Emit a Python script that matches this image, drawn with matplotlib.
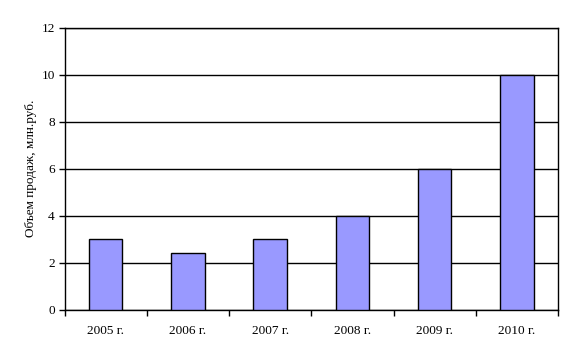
import matplotlib
matplotlib.use("Agg")
import matplotlib.pyplot as plt
import numpy as np

categories = ["2005 г.", "2006 г.", "2007 г.", "2008 г.", "2009 г.", "2010 г."]
values = [3, 2.4, 3, 4, 6, 10]
y_ticks = [0, 2, 4, 6, 8, 10, 12]
y_label = "Объем продаж, млн.руб."

plt.rcParams['font.family'] = ['Liberation Serif', 'DejaVu Serif']

fig = plt.figure(figsize=(5.75, 3.57), dpi=100)
W, H = 575, 357
ax = fig.add_axes([64.5 / W, 1 - 309.5 / H, (558 - 64.5) / W, (309.5 - 27.5) / H])

x = np.arange(len(categories))
ax.bar(x, values, width=0.41, color="#9999FF", edgecolor="black", linewidth=1.0, zorder=3)

ax.set_xlim(-0.5, len(categories) - 0.5)
ax.set_ylim(0, 12)
ax.set_yticks(y_ticks)
ax.set_yticklabels([str(t) for t in y_ticks], fontsize=9.5)
ax.yaxis.grid(True, color="black", linewidth=1.0, zorder=0)

ax.set_xticks(x)
ax.set_xticklabels(categories, fontsize=9.5)
ax.tick_params(axis="x", which="major", length=0, pad=11)
ax.set_xticks(np.arange(len(categories) + 1) - 0.5, minor=True)
ax.tick_params(axis="x", which="minor", length=4, width=1.0, direction="out")
ax.tick_params(axis="y", length=4, width=1.0, direction="out", pad=3)

for s in ax.spines.values():
    s.set_linewidth(1.0)
    s.set_color("black")

ax.set_ylabel(y_label, fontsize=9.5, labelpad=3)

fig.savefig("out.png", dpi=100)
